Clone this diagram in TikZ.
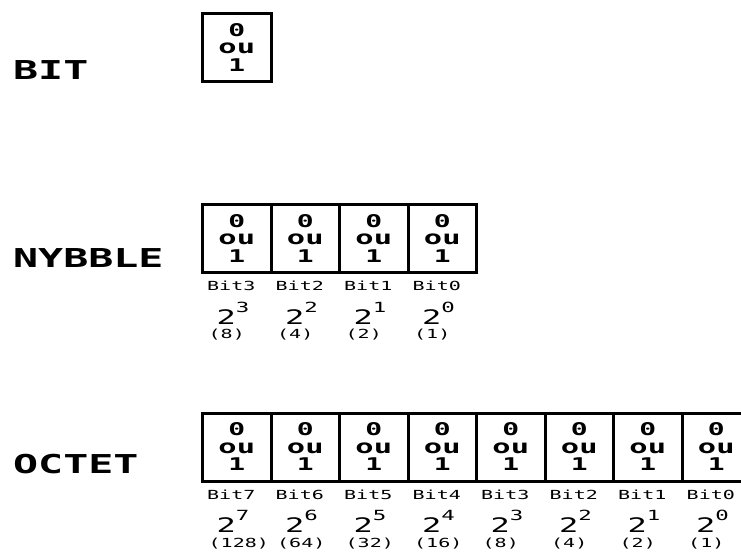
\documentclass[tikz,border=0pt]{standalone}
\usepackage{fontspec}
\newfontfamily\pixfont[FakeStretch=1.6]{DejaVu Sans Mono}
\usetikzlibrary{positioning}
\tikzset{
  cell/.style={
    rectangle, draw=black, line width=3pt,
    minimum width=68.5pt, minimum height=68pt,
    inner sep=0pt, outer sep=0pt, align=center,
    font=\pixfont\bfseries\fontsize{17.5}{17.5}\selectfont
  },
  title/.style={anchor=base west, inner sep=0pt,
    font=\pixfont\bfseries\fontsize{26}{26}\selectfont},
  bitname/.style={anchor=base west, inner sep=0pt,
    font=\pixfont\fontsize{12.5}{12.5}\selectfont},
  power/.style={anchor=base west, inner sep=0pt,
    font=\pixfont\fontsize{20}{20}\selectfont},
  weight/.style={anchor=base west, inner sep=0pt,
    font=\pixfont\fontsize{12.5}{12.5}\selectfont}
}
\newcommand{\expo}[1]{\raisebox{12pt}{\fontsize{14}{14}\selectfont #1}}
\newcommand{\bitval}{0\\{\fontsize{19}{17.5}\selectfont ou}\\1}

\begin{document}
\begin{tikzpicture}[x=1pt, y=-1pt]
  \useasboundingbox (0,0) rectangle (741,553);
  \clip (0,0) rectangle (741,553);

  % bit
  \node[title] (bittitle) at (13,80) {BIT};
  \node[cell] (bit) at (236.75,47.5) {\bitval};

  % nybble
  \node[title] (nybtitle) at (13,267) {NYBBLE};
  \foreach \b [count=\k from 0] in {3,2,1,0} {
    \pgfmathtruncatemacro{\w}{2^\b}
    \node[cell] (nyb\b) at ({236.75+68.5*\k},238.5) {\bitval};
    \node[bitname] (nybname\b) at ([xshift=4.5pt, yshift=-17.5pt]nyb\b.south west) {Bit\b};
    \node[power] (nybpow\b) at ([xshift=14pt, yshift=-51.5pt]nyb\b.south west) {2\expo{\b}};
    \node[weight] (nybwt\b) at ([xshift=6pt, yshift=-66pt]nyb\b.south west) {(\w)};
  }

  % octet
  \node[title] (octtitle) at (13,473) {OCTET};
  \foreach \b [count=\k from 0] in {7,6,...,0} {
    \pgfmathtruncatemacro{\w}{2^\b}
    \node[cell] (oct\b) at ({236.75+68.5*\k},447) {\bitval};
    \node[bitname] (octname\b) at ([xshift=4.5pt, yshift=-18pt]oct\b.south west) {Bit\b};
    \node[power] (octpow\b) at ([xshift=14pt, yshift=-51.5pt]oct\b.south west) {2\expo{\b}};
    \node[weight] (octwt\b) at ([xshift=6pt, yshift=-66pt]oct\b.south west) {(\w)};
  }
\end{tikzpicture}
\end{document}
